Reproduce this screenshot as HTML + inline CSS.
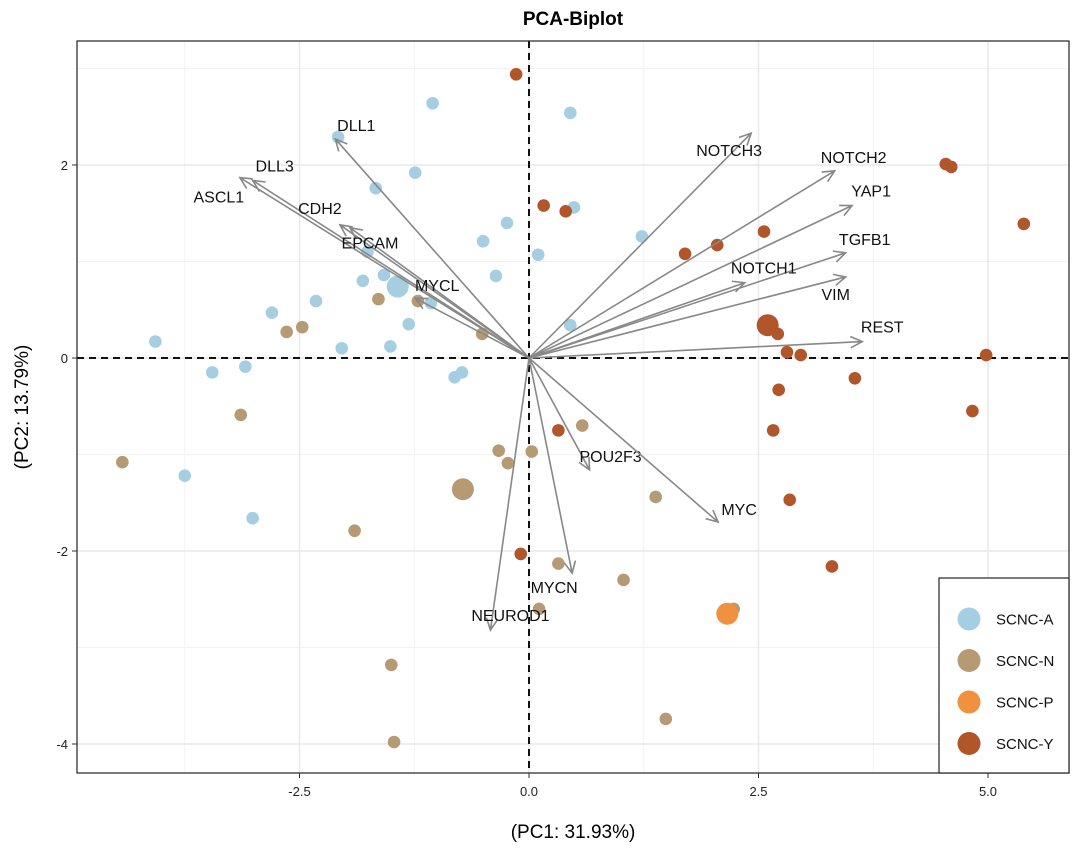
<!DOCTYPE html>
<html><head><meta charset="utf-8"><style>
body{margin:0;background:#fff}
svg text{font-family:"Liberation Sans",Arial,sans-serif}
</style></head><body>
<svg id="chart" width="1080" height="853" xmlns="http://www.w3.org/2000/svg">
<text x="573" y="25" text-anchor="middle" font-size="19" font-weight="bold">PCA-Biplot</text>
<g id="grid"></g><g id="ref"></g><g id="pts"></g><g id="arrows"></g>
<rect x="77" y="41" width="992" height="732" fill="none" stroke="#222" stroke-width="1.2"/>
<g id="ticks"></g>
<text x="573" y="838" text-anchor="middle" font-size="19">(PC1: 31.93%)</text>
<text transform="translate(28,407) rotate(-90)" text-anchor="middle" font-size="19">(PC2: 13.79%)</text>
<g id="legend"></g>
</svg>
<script>
const groups=["SCNC-A","SCNC-N","SCNC-P","SCNC-Y"];
const colors=["#a6cee3","#b69a73","#f0913f","#b1562a"];
const aX=[-1.05,0.45,-2.08,-1.24,-1.67,0.49,-0.24,1.23,-0.50,0.10,-0.36,-1.81,-1.58,-1.76,-2.32,-2.80,-1.07,-1.31,-2.04,-1.51,-3.09,-0.73,-0.81,-4.07,-3.45,-3.75,-3.01,0.45];
const aY=[2.64,2.54,2.29,1.92,1.76,1.56,1.40,1.26,1.21,1.07,0.85,0.80,0.86,1.10,0.59,0.47,0.57,0.35,0.10,0.12,-0.09,-0.15,-0.20,0.17,-0.15,-1.22,-1.66,0.34];
const nX=[-1.64,-1.21,-2.64,-2.47,-0.51,-3.14,-4.43,-1.90,-0.33,-0.23,0.03,0.58,1.38,0.32,1.03,0.11,-1.50,-1.47,1.49,2.23];
const nY=[0.61,0.59,0.27,0.32,0.25,-0.59,-1.08,-1.79,-0.96,-1.09,-0.97,-0.70,-1.44,-2.13,-2.30,-2.60,-3.18,-3.98,-3.74,-2.60];
const pX=[];const pY=[];
const yX=[-0.14,0.16,0.40,1.70,2.05,2.56,4.54,4.60,5.39,2.71,2.81,2.96,4.98,3.55,2.72,4.83,0.32,2.66,2.84,-0.09,3.30];
const yY=[2.94,1.58,1.52,1.08,1.17,1.31,2.01,1.98,1.39,0.25,0.06,0.03,0.03,-0.21,-0.33,-0.55,-0.75,-0.75,-1.47,-2.03,-2.16];
const centX=[-1.43,-0.72,2.16,2.60];
const centY=[0.74,-1.36,-2.65,0.34];
const genes=["DLL1","DLL3","ASCL1","CDH2","EPCAM","MYCL","NOTCH3","NOTCH2","YAP1","TGFB1","NOTCH1","VIM","REST","POU2F3","MYC","MYCN","NEUROD1"];
const geneX=[-2.11,-3.01,-3.15,-2.06,-1.95,-1.24,2.42,3.33,3.52,3.45,2.35,3.45,3.63,0.66,2.06,0.47,-0.42];
const geneY=[2.27,1.84,1.87,1.38,1.35,0.62,2.33,1.94,1.58,1.09,0.78,0.84,0.17,-1.16,-1.70,-2.23,-2.82];
const labDx=[21,22,-21,-20,20,22,-22,19,19,19,19,-10,20,21,21,-18,20];
const labDy=[-14,-15,19,-17,15,-13,17,-14,-15,-14,-15,17,-15,-14,-13,14,-15];
const xTicks=[-2.5,0,2.5,5];const xTickLabels=["-2.5","0.0","2.5","5.0"];
const yTicks=[-4,-2,0,2];const yTickLabels=["-4","-2","0","2"];
const X=v=>529+91.8*v, Y=v=>358-96.5*v;
const NS="http://www.w3.org/2000/svg";
function mk(p,t,a){const e=document.createElementNS(NS,t);for(const k in a)e.setAttribute(k,a[k]);document.getElementById(p).appendChild(e);return e;}
// grid
[-3.75,-1.25,1.25,3.75].forEach(v=>{const l=mk("grid","line",{x1:X(v),x2:X(v),y1:41,y2:773,stroke:"#f2f2f2","stroke-width":1});});
[-3,-1,1,3].forEach(v=>{const l=mk("grid","line",{x1:77,x2:1069,y1:Y(v),y2:Y(v),stroke:"#f2f2f2","stroke-width":1});});
xTicks.forEach((v,i)=>{const l=mk("grid","line",{x1:X(v),x2:X(v),y1:41,y2:773,stroke:"#e8e8e8","stroke-width":1.4});
 const t=mk("ticks","line",{x1:X(v),x2:X(v),y1:773,y2:778,stroke:"#333"});
 const s=mk("ticks","text",{x:X(v),y:796,"text-anchor":"middle","font-size":13,fill:"#222"});s.textContent=xTickLabels[i];});
yTicks.forEach((v,i)=>{const l=mk("grid","line",{x1:77,x2:1069,y1:Y(v),y2:Y(v),stroke:"#e8e8e8","stroke-width":1.4});
 const t=mk("ticks","line",{x1:72,x2:77,y1:Y(v),y2:Y(v),stroke:"#333"});
 const s=mk("ticks","text",{x:68,y:Y(v)+5,"text-anchor":"end","font-size":13,fill:"#222"});s.textContent=yTickLabels[i];});
let r=mk("ref","line",{x1:77,x2:1069,y1:Y(0),y2:Y(0),stroke:"#111","stroke-width":2,"stroke-dasharray":"7,5"});
r=mk("ref","line",{x1:X(0),x2:X(0),y1:41,y2:773,stroke:"#111","stroke-width":2,"stroke-dasharray":"7,5"});
// points
[[aX,aY],[nX,nY],[pX,pY],[yX,yY]].forEach((s,g)=>{s[0].forEach((v,i)=>{const c=mk("pts","circle",{cx:X(v),cy:Y(s[1][i]),r:6.3,fill:colors[g]});});});
centX.forEach((v,g)=>{const c=mk("pts","circle",{cx:X(v),cy:Y(centY[g]),r:11,fill:colors[g]});});
// arrows
genes.forEach((gn,i)=>{const x2=X(geneX[i]),y2=Y(geneY[i]),x1=X(0),y1=Y(0);
 const a=Math.atan2(y2-y1,x2-x1),h=13,w=0.45;
 const l=mk("arrows","path",{d:`M${x1},${y1}L${x2},${y2}M${x2-h*Math.cos(a-w)},${y2-h*Math.sin(a-w)}L${x2},${y2}L${x2-h*Math.cos(a+w)},${y2-h*Math.sin(a+w)}`,stroke:"#888","stroke-width":1.6,fill:"none"});
 
 const t=mk("arrows","text",{x:x2+labDx[i],y:y2+labDy[i]+6,"text-anchor":"middle","font-size":16,fill:"#111"});t.textContent=gn;
 });
// legend
const lb=mk("legend","rect",{x:939,y:578,width:130,height:195,fill:"#fff",stroke:"#222","stroke-width":1.2});
groups.forEach((g,i)=>{const cy=619+41.5*i;
 const c=mk("legend","circle",{cx:969,cy:cy,r:11.5,fill:colors[i]});
 const t=mk("legend","text",{x:996,y:cy+5.5,"font-size":15,fill:"#111"});t.textContent=g;});
</script>
</body></html>
